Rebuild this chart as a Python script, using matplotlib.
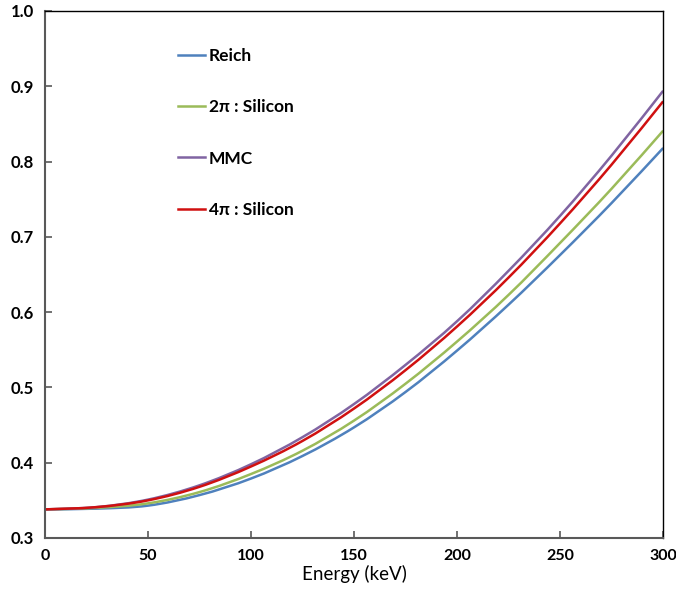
import numpy as np
import matplotlib
matplotlib.use('Agg')
import matplotlib.pyplot as plt
from matplotlib.path import Path
from matplotlib.patches import PathPatch
from matplotlib.lines import Line2D

plt.rcParams['font.family'] = ['Lato', 'DejaVu Sans']

# energy grid (keV) and curves
energy = [0, 25, 50, 75, 100, 125, 150, 175, 200, 225, 250, 275, 300]
reich = [0.338, 0.339, 0.343, 0.357, 0.379, 0.409, 0.447, 0.494, 0.549, 0.610, 0.676, 0.745, 0.818]
si_2pi = [0.338, 0.340, 0.346, 0.361, 0.385, 0.416, 0.456, 0.505, 0.561, 0.623, 0.692, 0.764, 0.841]
mmc = [0.338, 0.341, 0.351, 0.370, 0.398, 0.434, 0.478, 0.530, 0.588, 0.655, 0.728, 0.808, 0.894]
si_4pi = [0.338, 0.341, 0.350, 0.368, 0.395, 0.429, 0.472, 0.523, 0.581, 0.646, 0.718, 0.796, 0.880]

labels = ['Reich', '2\u03c0 : Silicon', 'MMC', '4\u03c0 : Silicon']
colors = ['#4F81BD', '#9BBB59', '#8064A2', '#D01010']
series = [reich, si_2pi, mmc, si_4pi]


def smooth_path(x, y):
    # Excel-style smoothed line: Catmull-Rom segments drawn as cubic Beziers
    p = np.column_stack([x, y]).astype(float)
    ext = np.vstack([p[0], p, p[-1]])
    verts = [p[0]]
    codes = [Path.MOVETO]
    for i in range(1, len(ext) - 2):
        p0, p1, p2, p3 = ext[i - 1], ext[i], ext[i + 1], ext[i + 2]
        verts += [p1 + (p2 - p0) / 6, p2 - (p3 - p1) / 6, p2]
        codes += [Path.CURVE4] * 3
    return Path(verts, codes)


fig = plt.figure(figsize=(6.76, 5.91), dpi=100)
ax = fig.add_axes([0.0666, 0.0897, 0.9144, 0.8917])

handles = []
for y, c, lab in zip(series, colors, labels):
    ax.add_patch(PathPatch(smooth_path(energy, y), fill=False, edgecolor=c, lw=1.8))
    handles.append(Line2D([], [], color=c, lw=1.8, label=lab))

ax.set_xlim(0, 300)
ax.set_ylim(0.3, 1.0)
ax.set_xticks(np.arange(0, 301, 50))
ax.set_yticks(np.arange(0.3, 1.01, 0.1))
ax.set_yticklabels(['%.1f' % v for v in np.arange(0.3, 1.01, 0.1)])

ax.tick_params(direction='in', length=5, width=1.2, color='#595959',
               labelsize=12, top=False, right=False, pad=8)
ax.tick_params(axis='x', labelsize=11.5)
for lbl in ax.get_xticklabels() + ax.get_yticklabels():
    lbl.set_fontweight('bold')

ax.spines['left'].set_color('#595959')
ax.spines['left'].set_linewidth(1.5)
ax.spines['bottom'].set_color('#595959')
ax.spines['bottom'].set_linewidth(1.5)
ax.spines['top'].set_color('black')
ax.spines['top'].set_linewidth(1.0)
ax.spines['right'].set_color('black')
ax.spines['right'].set_linewidth(1.0)

ax.set_xlabel('Energy (keV)', fontsize=13.5, labelpad=1)

leg = ax.legend(handles=handles, loc='upper left', bbox_to_anchor=(0.2145, 0.929),
                frameon=False, prop={'weight': 'bold', 'size': 12.5}, labelspacing=2.02,
                handlelength=1.55, handletextpad=0.25, borderpad=0, borderaxespad=0)

fig.savefig('out.png', dpi=100)
